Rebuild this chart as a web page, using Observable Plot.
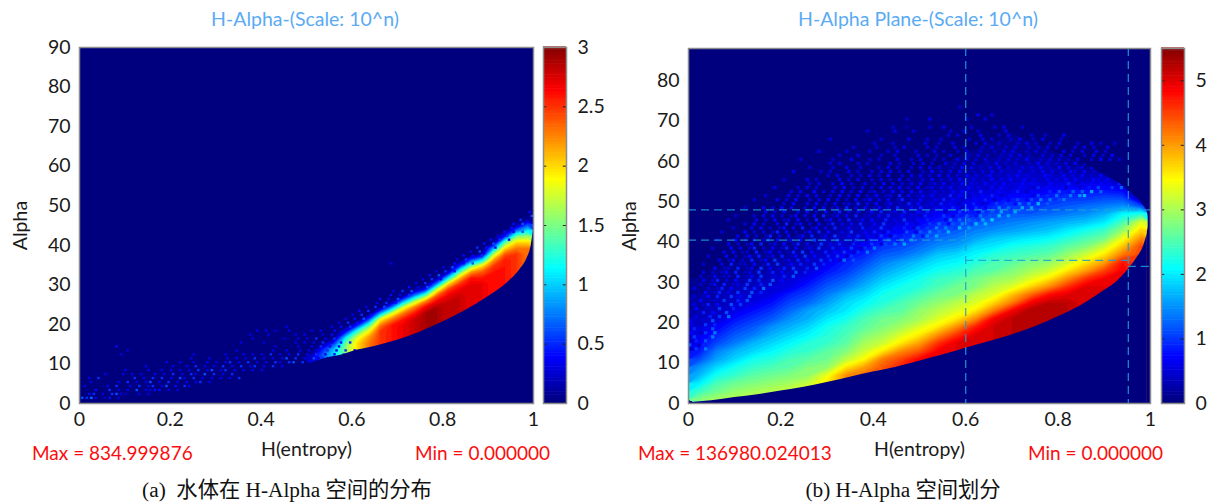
<!DOCTYPE html>
<html><head><meta charset="utf-8">
<script src="https://cdn.jsdelivr.net/npm/d3@7"></script>
<script src="https://cdn.jsdelivr.net/npm/@observablehq/plot@0.6"></script>
<style>
html,body{margin:0;padding:0;background:#fff}
#page{position:relative;width:1219px;height:504px;overflow:hidden}
#page svg{position:absolute;top:0;background:transparent}
.t{position:absolute;white-space:pre;font-family:Lato,"Open Sans",sans-serif}
.title{color:#5aaaf5;font-size:19.5px;top:7px;transform:translateX(-50%)}
.red{color:#fb0d0d;font-size:19px;top:441px}
.cap{color:#111;font-family:"Liberation Serif","Noto Sans CJK SC",serif;font-size:21.3px;top:472px;transform:translateX(-50%)}
</style></head><body><div id="page"></div>
<script>
// ---------- Panel (a): log10 density, tenths; grid columns H=.5125,.5375.. rows alpha=10.75,12.25..
// each column: [k, v, ...rest] = first k rows hold v, then the listed rows
const aCols = [
 [0,0,3,2],[0,0,6,7,5,1],[0,0,10,11,10,6,1],[3,16,15,11,4],
 [4,20,18,13,5],[4,23,22,19,14,6],[6,25,23,19,9,1],[7,26,23,18,8,1],
 [7,27,26,23,18,9,1],[8,28,26,23,17,8,1],[9,29,27,23,15,5],[10,29,27,24,18,8,1],
 [11,28,27,25,20,11,2],[12,28,27,25,21,14,5],[14,27,26,22,15,6],[14,27,26,24,20,11,2],
 [16,26,25,22,17,9,1],[18,26,24,20,14,5],[19,25,23,20,15,7,1],[20,23,20,16,11,6,1]
];
const edgeAH = [.5,.55,.58,.6,.65,.7,.75,.8,.85,.9,.94,.97,.985,.995,1];
const edgeAA = [9.8,11.6,12.3,13.1,14.4,16,18,20.6,23.5,27,30.3,33.8,36.5,40,44];
// flecks: [alpha, first H index (hundredths), values by hundredth in tenths]
const fleckA = [
 [1,0,"6573.24.3"],[2,0,"..45.3.5632..3.3"],[3,0,"...4..5.3.3.6.3344.3.3"],[4,1,"3....3.5..3.5.35.36.4.53"],
 [5,2,"3.....3.5.3.36.3.5.3.3.35.3"],[6,2,"3.5.......5.3.5.5.3.63.5.3.3.3.3.5"],[7,5,"3...3.3.3..3.3.5.3.53.6.5.3.5"],
 [8,10,"3....3..3.3.3.3.5.36.35.3.3.3.3"],[9,14,"3.....3..3.5.3.3.5.3.5.35.3.5.3"],[10,19,"3..3..3..3.3.35.3.5.3.3.53.56.5.3.5"],
 [11,24,"3...3...3.3.3.5.3.3.36.5.3.6354.3.7.5.6"],[12,9,"3...............3......3...3.3.3.5.3.3.5.3.5.3.4.7.5"],
 [13,10,"3.......................3.......3..3..3.3.3.5.3.5.3.4.6.58"],[14,8,"4"],[14,43,"3....3..3.5.3.3"],
 [15,30,".....3....3......3.3.3.5.3.4.5"],[16,38,"3......3..3.3.5.3.5"],[17,37,"3...3.....3.3...3.4"],
 [18,39,"3.3.3..3....3.3..4"],[19,45,"3"],[19,55,"3.4.5"],[20,57,"3.5.4"],[21,58,"3.4.6"],[22,60,"3.5.4"],[23,61,"4.5.3"],[24,63,"3.5.6"],
 [25,65,"3.5.4"],[26,66,"4.3.6"],[27,68,"4.3.5"],[28,69,"3.5.6"],[29,72,"4.3.6"],[30,74,"3.5"],[31,75,"3.5.3"],[32,77,"4.6"],[33,78,"3.5.4"],
 [34,80,"3.6"],[35,68,"3"],[35,82,"4.3.6"],[36,83,"3.5"],[37,84,"4.3.5"],[38,86,"3.6"],[39,87,"5.4.3"],[40,89,"4.6"],[41,90,"4.5.3"],
 [42,92,"3.5"],[43,93,"4.3.6"],[44,95,"4"],[45,95,"4.6"],[46,97,"5"],[47,99,"6"],[48,99,"4"]
];
// ---------- Panel (b): grid columns H=.02,.06..; rows alpha=1,3,5..69
const bCols = [
 [0,0,28,24,20,17,15,11,8,7,6,5,4,3,2,2,1,1],
 [0,0,30,27,25,22,19,16,14,11,9,7,5,4,3,3,2,1,1],
 [0,0,31,29,27,24,22,19,17,14,12,10,8,6,5,4,3,2,1,1],
 [0,0,32,30,28,26,24,22,19,17,14,12,10,8,6,5,4,3,2,1,1],
 [0,0,33,31,29,27,25,23,21,19,17,15,12,10,8,6,5,4,3,2,1,1],
 [0,0,34,32,30,28,26,25,23,21,19,17,15,13,11,9,6,5,4,3,2,1,1],
 [0,0,35,34,32,29,28,26,24,23,21,19,17,16,13,11,9,7,5,4,3,2,1,1],
 [0,0,38,37,36,34,29,27,26,24,23,22,20,18,16,14,12,10,8,6,5,4,3,2,1,1],
 [4,41,36,31,28,26,25,24,22,20,19,17,14,12,10,9,7,5,4,3,2,1,1],
 [4,43,40,35,32,30,28,26,25,23,21,19,17,15,13,11,9,7,5,4,3,2,1,1],
 [5,44,42,36,32,30,28,27,25,23,22,20,18,16,14,12,10,8,6,4,3,2,1,1],
 [5,47,45,41,36,33,30,28,26,25,23,22,20,18,16,13,11,9,7,5,4,3,2,1,1],
 [6,49,44,40,36,33,30,29,27,25,23,22,20,18,15,13,11,9,7,5,4,3,2,1,1],
 [7,49,46,41,36,33,31,29,27,25,24,22,20,18,15,13,11,9,7,5,4,3,2,1,1],
 [8,50,46,41,36,33,31,28,27,25,23,21,19,16,14,12,10,8,6,5,4,3,2,1,1],
 [9,50,47,41,36,33,31,28,27,25,23,21,19,16,14,12,9,7,6,5,4,3,2,1,1],
 [10,51,49,42,37,33,31,29,26,25,23,20,18,15,13,11,9,7,5,4,3,2,2,1,1],
 [11,52,49,42,38,33,30,28,26,24,22,19,16,14,12,10,8,6,5,4,3,2,2,1,1],
 [12,53,49,43,37,33,30,28,25,23,20,17,15,12,10,8,6,5,4,3,2,1,1],
 [13,52,48,41,36,32,29,26,24,21,18,16,13,11,9,7,5,4,3,2,1],
 [13,52,50,46,41,36,32,29,26,23,20,17,14,12,10,8,5,3,2,1],
 [15,50,46,40,36,32,28,25,22,18,15,13,10,8,5,3,1],
 [15,50,49,45,40,36,32,27,24,20,17,14,11,8,6,3,1],
 [17,49,48,42,38,34,29,25,21,15,11,7,3],
 [20,45,41,37,33,23,11,2]
];
const edgeBH = [0,.05,.1,.15,.2,.25,.3,.35,.4,.45,.5,.55,.6,.65,.7,.75,.8,.85,.9,.93,.95,.97,.985,.993];
const edgeBA = [.2,.7,1.5,2.2,3.1,4,5.2,6.5,7.8,9,10.5,12,13.7,15.3,17,19,21.5,24.3,28,30.5,33,36,39,42];
const rimBA = [0,42,44,46,47.5,49,50.5,52,54,56,58,60];
const rimBH = [.993,.993,.995,.995,.993,.985,.975,.96,.94,.91,.88,.85];
const fleckB = [
 [73,58,"3"],[71,62,"4..3"],[70,47,"3....4.......3...4"],[68,44,"3..2....3..4.....3....3.4...3"],
 [67,38,"3.....4...3.......3..4..3.....4"],[66,56,"3.3....4...3.4....3..3...4"],
 [65,30,"3..........3.....4...3..3.....3..4.3...3.4..3.4...3"],[64,40,"3...3......4..3..4....3.4..3...3.4.3..3.4...3..4.3..3"],
 [63,35,"3....3...3.4....3.3...4.3...3.4..3.4..3.3.4.3...4.4.3..4"],[62,28,"4.....3....3...3.4...3...4.3..3.4..3..3.4.4..3.4.3...4.3.4..4.3"],
 [61,32,"3...4....3..3....4.3.3..4...3.4.3..3.4.4.3..4.3.4.4..3.4.3.5"],[60,24,"3......3...4...3.3...4..3.4..3.3..4.4.3.4..3.4.3.5..3.4.4.3.4..3.5.4.3"],
 [59,30,"3.4...3.3....4.3..3.4.3..4.3.4.4..3.5.3.4..3.5.4.3.4.5.03.4.5.3.4"],[58,26,"3....3..4..3...3.4.3..3.4.4.3..3.5.4.3.4.5.3..4.4.5.3.5.4.04.5.3.4.5.3.4"],
 [57,22,"4.....3.3...4.3..3.4.4.3.4..3.5.3.4.5..3.4.5.4.3.5.04.5.4.3.54.5.3.5.4.5"],[56,30,"3.4..3.3.4.3.5..3.4.4.3.5.4.3.5.4.05.3.4.5.4.3.54.05.4.5.3.5.4.05.5.4.3.5"],
 [55,20,"3....4.3....4.3.4..3.4.3.5.3..4.5.3.4.5.04.3.5.4.5.35.4.05.4.5.5.3.54.5.05.4.5.6.4.5"],[54,26,"3.4..3.5.3..4.3.5.4.3.4.5.04.5.3.5.4.05.4.5.3.5.54.05.4.6.04.5.5.4.6.05.4.5.56.5"],
 [53,18,"4....3.4.3...4.5.3.4.3.5.4.5.3.5.04.4.5.3.5.4.05.5.3.54.06.5.4.05.3.5.6.04.5.56.4.05.6.5"],[52,22,"3.4..5.3.4.5.3.5.04.3.5.4.5.5.04.3.5.54.06.4.5.3.6.05.4.5.6.05.4.6.05.5.6.04.6.5.06.5.5"],
 [51,16,"3....4.3.5.4..3.5.4.5.3.5.04.6.4.05.5.3.6.5.04.5.6.04.5.5.06.4.6.05.56.5.04.6.5.6.05.6.6.5"],[50,14,"3....4.3.5..3.4.5.4.3.5.05.4.5.06.3.5.04.6.5.04.5.6.05.4.6.05.6.5.04.6.5.67.05.6.5.6.07.5.6"],
 [49,20,"3.5..4.5.3.5.04.6.4.5.05.3.6.5.04.6.5.05.6.04.6.5.06.5.7.04.6.5.67.05.6.06.7.5.6.7"],[48,12,"3...4.3.5.4..3.5.5.04.6.3.5.05.4.6.05.6.04.5.6.05.6.04.7.5.06.5.7.06.5.67.05.7.6.6"],
 [47,16,"4.3.5..4.5.3.5.06.4.5.05.6.04.6.05.6.5.04.7.5.06.5.7.06.5.6.07.5.6.7.6.7"],[46,10,"3...3.4.5.3.05.4.5.6.04.5.6.03.5.6.05.4.06.5.7.05.6.06.4.7.5.06.7.5.6.7"],
 [45,8,"3.....4.3.5.04.5.3.6.05.4.6.05.5.06.4.7.05.6.5.07.6.5.06.7.5.7"],[44,12,"3.5.3..4.6.05.3.5.06.4.5.6.05.7.04.6.05.6.7.05.6.07.6.5.7"],
 [43,9,"3...4.5.3.05.4.6.05.4.6.05.06.4.7.05.6.06.5.7.6.07.5.6"],[42,7,"3....5.3.4.06.5.3.05.6.5.04.7.05.6.06.5.7.06.7.5.7"],
 [41,10,"4.5.3.06.4.5.05.6.04.7.05.6.5.07.06.5.7.06.7"],[40,6,"3...5.3.4.06.5.04.5.07.5.06.4.7.06.5.7.06.7"],
 [39,8,"4.3.05.6.04.5.06.5.07.4.6.06.5.7.06.7.8"],[38,5,"3...5.4.06.3.5.06.5.04.7.06.5.7.06.8"],
 [37,7,"4.5.03.6.05.4.06.7.5.06.5.7.06.8"],[36,4,"3...5.3.05.6.04.6.05.7.5.06.7.06"],
 [35,6,"4.05.3.6.05.7.04.6.5.07.6.08.6"],[34,3,"3...4.6.03.5.06.7.05.6.07.6"],
 [33,5,"5.03.6.04.7.5.06.7.06.8"],[32,3,"4.3.05.6.04.7.06.5.08.6"],[31,2,"3..5.03.6.05.7.04.6.8"],
 [30,3,"4.06.3.5.07.6.08.5"],[29,2,"3.05.6.04.7.06.8"],[28,1,"4..3.06.5.07.6.9"],
 [27,3,"5.06.4.7.08.6"],[26,1,"3.05.6.07.5.8"],[25,2,"5.03.7.06.8"],[24,1,"4.06.5.08.7"],
 [23,1,"5.03.7.06"],[22,0,"3.06.5.08"],[21,1,"4.06.7.9"],[20,0,"5.03.8"],[19,0,"4.07.6"],
 [18,0,"06.4.8"],[17,0,"5.07.9"],[16,0,"07.5.9"],[15,0,"06.8"],[14,0,"8.06"],[13,0,"07.9"]
];
// where the blue isoline crosses each alpha row in (b)
const noiseAlpha = [53,52,51,50,49,48,47,46,45,44,43,42,41,40,39,38,37,36,35,34,33,32,31,30,29,28,27,26,25,24,23,22,21,20,19,18,17,16,15,14,13];
const noiseStop = [.85,.75,.72,.68,.64,.6,.58,.55,.52,.5,.47,.45,.43,.41,.39,.37,.35,.33,.31,.29,.27,.25,.23,.22,.2,.18,.16,.15,.13,.12,.1,.09,.08,.07,.06,.05,.04,.035,.03,.025,.02];
const xTicks = [0,.2,.4,.6,.8,1];
const yTicksA = [0,10,20,30,40,50,60,70,80,90];
const yTicksB = [0,10,20,30,40,50,60,70,80];
const barTicksA = [0,.5,1,1.5,2,2.5,3];
const barTicksB = [0,1,2,3,4,5];
const dashH = [.6,.952];
const dashA = [48,40.5,35.5,34];
const dashFrom = [0,0,.6,.952];
const dashTo = [1,.6,.952,1];

// ---------- helpers
const jetStops = [0,.125,.375,.625,.875,1];
const jetRange = ["#00007f","#0000ff","#00ffff","#ffff00","#ff0000","#7f0000"];
const jet = max => ({type:"linear",domain:jetStops.map(s=>s*max),range:jetRange,clamp:true});
const font = {fontFamily:"Lato,'Open Sans',sans-serif",fontSize:"19.5px",color:"#1a1a1a",background:"transparent"};
const page = document.getElementById("page");
function place(svg,left){svg.style.left=left+"px";page.appendChild(svg)}
function flat(cols,rows){ // columns -> row-major grid, tenths -> value
  const filled = cols.map(([k,v,...r])=>{const c=[...Array(k).fill(v),...r];while(c.length<rows)c.push(0);return c});
  const out=[];for(let j=0;j<rows;j++)for(const c of filled)out.push(c[j]/10);return out;
}
// a "0" is a darker fleck of about .35 in the noisy blue zone
const flecks = rows => rows.flatMap(([a,s,str])=>[...str].flatMap((c,i)=>c==="."?[]:[{h:(s+i+(a%2?.45:0))/100,a,v:c==="0"?.35:+c/10}]));
// right of the blue isoline the flecks follow the brighter ground, then stop
const fleckPointsB = flecks(fleckB).flatMap(d=>{
  const v=d.v===.35?d.v:d.v*1.4;
  const k=noiseAlpha.indexOf(d.a); if(k<0) return [{...d,v}];
  const stop=noiseStop[k];
  if(d.h<=stop) return [{...d,v}];
  if(d.h>stop+.14) return [];
  return [{...d,v:v+(d.h-stop)*6}];
});

function panel({left,w,mT,yMax,yTicks,max,cols,nRows,x1,x2,y1,y2,eH,eA,points,extra,thr,fw,fh}){
  const h=470;
  const edge=eH.map((H,i)=>({H,A:eA[i]}));
  return Plot.plot({width:w+ (left===0?86:88),height:h,marginLeft:left===0?79:78,marginRight:left===0?7:10,marginTop:mT,marginBottom:h-403,
    style:font,
    x:{domain:[0,1]},y:{domain:[0,yMax]},color:jet(max),
    marks:[
      Plot.frame({fill:"#00007f"}),
      Plot.contour(flat(cols,nRows),{width:cols.length,height:nRows,x1,x2,y1,y2,fill:Plot.identity,thresholds:thr}),
      Plot.rect(points,{x1:d=>d.h,x2:d=>d.h+fw,y1:d=>d.a,y2:d=>d.a+fh,fill:"v",clip:true}),
      Plot.areaY(edge,{x:"H",y1:0,y2:"A",fill:"#00007f",curve:"monotone-x"}),
      ...extra,
      Plot.frame({stroke:"#8c8c8c",strokeWidth:1.5}),
      Plot.axisX({ticks:xTicks,tickSize:0,tickPadding:9,tickFormat:d=>String(d),label:"H(entropy)",labelAnchor:"center",labelArrow:"none",labelOffset:52,fill:"#1a1a1a"}),
      Plot.axisY({ticks:yTicks,tickSize:0,tickPadding:9,tickFormat:d=>String(d),label:"Alpha",labelAnchor:"center",labelArrow:"none",labelOffset:66,fill:"#1a1a1a"})
    ]});
}
function colorbar(max,ticks,mT,mR){
  const step=max/128;
  const levels=d3.range(0,max,step);
  return Plot.plot({width:11+23+mR,height:470,marginLeft:11,marginRight:mR,marginTop:mT,marginBottom:67,style:font,
    x:{domain:[0,1],axis:null},y:{domain:[0,max]},color:jet(max),
    marks:[
      Plot.rect(levels,{x1:0,x2:1,y1:d=>d,y2:d=>d+step*1.2,fill:d=>d}),
      Plot.ruleY(ticks.filter(t=>t>0&&t<max),{x1:0,x2:.14,stroke:"#222"}),
      Plot.ruleY(ticks.filter(t=>t>0&&t<max),{x1:.86,x2:1,stroke:"#222"}),
      Plot.frame({stroke:"#8c8c8c",strokeWidth:1.5}),
      Plot.axisY({anchor:"right",ticks,tickSize:0,tickPadding:11,tickFormat:d=>String(d),label:null,fill:"#1a1a1a"})
    ]});
}
// ---------- panel a
place(panel({left:0,w:454,mT:47,yMax:90,yTicks:yTicksA,max:3,cols:aCols,nRows:26,x1:.5,x2:1,y1:10,y2:49,
  eH:edgeAH,eA:edgeAA,points:flecks(fleckA),extra:[],thr:d3.range(.05,3,.05),fw:.0055,fh:.6}),0);
place(colorbar(3,barTicksA,47,42),532);
// ---------- panel b
const rim=rimBA.map((A,i)=>({A,H:rimBH[i]}));
const horiz=dashA.map((a,i)=>({a,from:dashFrom[i],to:dashTo[i]}));
const dash={stroke:"#1f9fd3",strokeWidth:1.3,strokeDasharray:"8,5",strokeOpacity:.85};
place(panel({left:610,w:462,mT:48,yMax:88,yTicks:yTicksB,max:5.5,cols:bCols,nRows:35,x1:0,x2:1,y1:0,y2:70,
  eH:edgeBH,eA:edgeBA,points:fleckPointsB,fw:.0072,fh:.8,thr:d3.range(.1,5.5,.1),
  extra:[
    Plot.areaX(rim,{y:"A",x1:"H",x2:1,fill:"#00007f",curve:"monotone-y"}),
    Plot.ruleX(dashH,dash),
    Plot.ruleY(horiz,{y:"a",x1:"from",x2:"to",...dash})
  ]}),610);
place(colorbar(5.5,barTicksB,48,35),1150);
// ---------- text around the plots
const texts=[
 ["title","H-Alpha-(Scale: 10^n)",305],["title","H-Alpha Plane-(Scale: 10^n)",918],
 ["red","Max = 834.999876",32],["red","Min = 0.000000",415],["red","Max = 136980.024013",638],["red","Min = 0.000000",1028],
 ["cap","(a)  水体在 H-Alpha 空间的分布",287],["cap","(b) H-Alpha 空间划分",903]
];
for(const [c,s,x] of texts){const d=document.createElement("div");d.className="t "+c;d.textContent=s;d.style.left=x+"px";page.appendChild(d)}
</script></body></html>
